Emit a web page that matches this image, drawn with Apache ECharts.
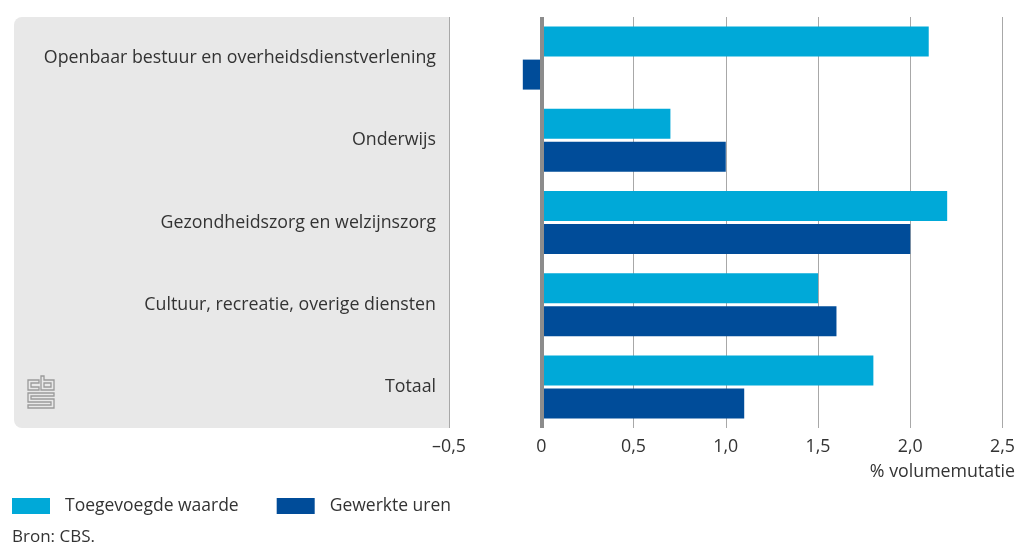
<!DOCTYPE html>
<html>
<head>
<meta charset="utf-8">
<script src="https://cdn.jsdelivr.net/npm/echarts@6/dist/echarts.min.js"></script>
<style>
  html, body { margin: 0; padding: 0; background: #fff; }
  #chart { width: 1018px; height: 545px; }
</style>
</head>
<body>
<div id="chart"></div>
<script>
// categorieën (van boven naar beneden)
const categories = [
  'Openbaar bestuur en overheidsdienstverlening',
  'Onderwijs',
  'Gezondheidszorg en welzijnszorg',
  'Cultuur, recreatie, overige diensten',
  'Totaal'
]
// % volumemutatie
const toegevoegdeWaarde = [2.1, 0.7, 2.2, 1.5, 1.8]
const gewerkteUren = [-0.1, 1.0, 2.0, 1.6, 1.1]

const FONT = '"Open Sans", sans-serif'
const FS = 17.8
const LIGHT = '#00a9d8'
const DARK = '#004c99'

const chart = echarts.init(document.getElementById('chart'))

chart.setOption({
  animation: false,
  textStyle: { fontFamily: FONT },
  grid: { left: 449, right: 14, top: 17, bottom: 117, containLabel: false },
  legend: {
    left: 12,
    top: 497,
    padding: 0,
    itemWidth: 38,
    itemHeight: 16,
    itemGap: 38,
    icon: 'rect',
    selectedMode: false,
    textStyle: { fontFamily: FONT, fontSize: 17.5, color: '#333', padding: [0, 0, 0, 10] },
    data: ['Toegevoegde waarde', 'Gewerkte uren']
  },
  xAxis: {
    type: 'value',
    min: -0.5,
    max: 2.5,
    interval: 0.5,
    axisLine: { show: false },
    axisTick: { show: false },
    splitLine: { lineStyle: { color: '#a8a8a8', width: 1 } },
    axisLabel: {
      fontFamily: FONT,
      fontSize: FS,
      color: '#333',
      margin: 10,
      formatter: v => v === 0 ? '0' : v.toFixed(1).replace('.', ',').replace('-', '\u2013')
    }
  },
  yAxis: {
    type: 'category',
    inverse: true,
    data: categories,
    axisLine: { show: false },
    axisTick: { show: false },
    axisLabel: { fontFamily: FONT, fontSize: FS, color: '#333', margin: 13 }
  },
  graphic: [
    {
      type: 'rect',
      z: -10,
      shape: { x: 14, y: 17, width: 435, height: 411, r: [8, 0, 0, 8] },
      style: { fill: '#e8e8e8' }
    },
    {
      type: 'group',
      z: -5,
      children: [
        { type: 'polygon', shape: { points: [[28,380],[39,380],[39,383],[31,383],[31,387],[39,387],[39,390],[28,390]] }, style: { fill: 'none', stroke: '#9a9a9a', lineWidth: 1.3 } },
        { type: 'polygon', shape: { points: [[41,376],[44,376],[44,380],[54,380],[54,390],[41,390]] }, style: { fill: 'none', stroke: '#9a9a9a', lineWidth: 1.3 } },
        { type: 'rect', shape: { x: 44, y: 383, width: 7, height: 4 }, style: { fill: 'none', stroke: '#9a9a9a', lineWidth: 1.3 } },
        { type: 'polygon', shape: { points: [[28,393],[54,393],[54,396],[31,396],[31,399],[54,399],[54,408],[28,408],[28,405],[51,405],[51,402],[28,402]] }, style: { fill: 'none', stroke: '#9a9a9a', lineWidth: 1.3 } }
      ]
    },
    {
      type: 'text',
      right: 3,
      top: 463,
      style: { text: '% volumemutatie', font: FS + 'px ' + FONT, fill: '#333' }
    },
    {
      type: 'text',
      left: 12,
      top: 529,
      style: { text: 'Bron: CBS.', font: '17px ' + FONT, fill: '#333' }
    }
  ],
  series: [
    {
      name: 'Toegevoegde waarde',
      type: 'bar',
      data: toegevoegdeWaarde,
      barWidth: 30,
      barGap: '10%',
      itemStyle: { color: LIGHT }
    },
    {
      name: 'Gewerkte uren',
      type: 'bar',
      data: gewerkteUren,
      barWidth: 30,
      barGap: '10%',
      itemStyle: { color: DARK },
      markLine: {
        silent: true,
        symbol: 'none',
        z: 10,
        label: { show: false },
        lineStyle: { color: '#8c8c8c', width: 4, type: 'solid' },
        data: [{ xAxis: 0 }]
      }
    }
  ]
})
</script>
</body>
</html>
